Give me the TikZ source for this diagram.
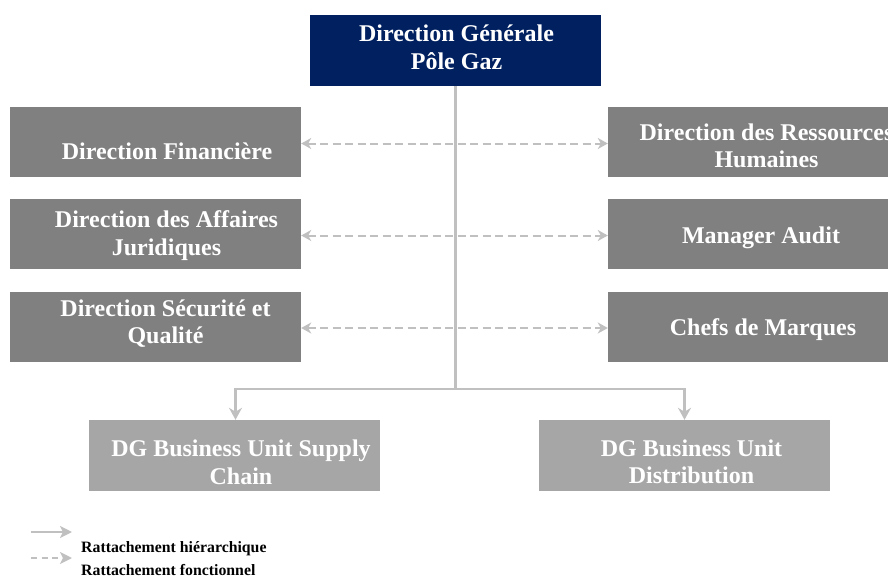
\documentclass[tikz,border=0pt]{standalone}
\usepackage{fontspec}
\setmainfont{Liberation Serif}
\usepackage{tikz}
\usetikzlibrary{arrows.meta}

\definecolor{dgblue}{RGB}{0,32,96}
\definecolor{dirgray}{RGB}{128,128,128}
\definecolor{bugray}{RGB}{166,166,166}
\definecolor{linkgray}{RGB}{192,192,192}

\tikzset{
	box/.style={minimum width=291pt, minimum height=70pt, inner sep=0pt},
	boxtext/.style={text=white, align=center, inner sep=0pt, font=\bfseries\fontsize{24}{27.6}\selectfont},
	legtext/.style={inner sep=0pt, font=\bfseries\fontsize{15.8}{18}\selectfont},
	trunk/.style={draw=linkgray, line width=3.5pt},
	hier/.style={draw=linkgray, line width=2.8pt, -{Stealth[length=12pt, width=13pt, inset=4pt]}},
	func/.style={draw=linkgray, line width=2pt, dash pattern=on 8pt off 4.5pt, {Stealth[length=10pt, width=11pt, inset=3pt]}-{Stealth[length=10pt, width=11pt, inset=3pt]}},
	leghier/.style={draw=linkgray, line width=2.4pt, -{Stealth[length=12pt, width=12pt, inset=3pt]}},
	legfunc/.style={draw=linkgray, line width=2.4pt, dash pattern=on 6pt off 4.5pt, -{Stealth[length=12pt, width=12pt, inset=3pt]}}
}

\begin{document}
\begin{tikzpicture}[x=1pt, y=-1pt]
		\useasboundingbox (0,0) rectangle (888,578);
		\clip (0,0) rectangle (888,578);
		\node[box, fill=dgblue, minimum height=71pt, label={[boxtext, xshift=1pt, yshift=3pt]center:Direction Générale\\Pôle Gaz}] (dg) at (455.5,50.5) {};
		\node[box, fill=dirgray, label={[boxtext, xshift=11.5pt, yshift=-9pt]center:Direction Financière}] (fin) at (155.5,142) {};
		\node[box, fill=dirgray, label={[boxtext, xshift=11pt, yshift=-2.4pt]center:Direction des Affaires\\Juridiques}] (jur) at (155.5,233.5) {};
		\node[box, fill=dirgray, label={[boxtext, xshift=10pt, yshift=3pt]center:Direction Sécurité et\\Qualité}] (sec) at (155.5,326.5) {};
		\node[box, fill=dirgray, label={[boxtext, xshift=13pt, yshift=-4pt]center:Direction des Ressources\\Humaines}] (rh) at (753.5,142) {};
		\node[box, fill=dirgray, label={[boxtext, xshift=7.5pt, yshift=-4.5pt]center:Manager Audit}] (aud) at (753.5,233.5) {};
		\node[box, fill=dirgray, label={[boxtext, xshift=9.5pt, yshift=-2.7pt]center:Chefs de Marques}] (chef) at (753.5,326.5) {};
		\node[box, fill=bugray, minimum height=71pt, label={[boxtext, xshift=6.5pt, yshift=-6.5pt]center:DG Business Unit Supply\\Chain}] (sc) at (234.5,455.5) {};
		\node[box, fill=bugray, minimum height=71pt, label={[boxtext, xshift=7pt, yshift=-6.5pt]center:DG Business Unit\\Distribution}] (dist) at (684.5,455.5) {};

		\draw[func] ([yshift=-1.5pt]fin.east) -- ([yshift=-1.5pt]rh.west);
		\draw[func] ([yshift=-2pt]jur.east) -- ([yshift=-2pt]aud.west);
		\draw[func] ([yshift=-1.5pt]sec.east) -- ([yshift=-1.5pt]chef.west);

		\coordinate (fork) at (455.5,389);
		\draw[trunk] (dg.south) -- (fork);
		\draw[hier] (fork) -| ([xshift=1pt]sc.north);
		\draw[hier] (fork) -| (dist.north);

		\coordinate (h1) at (31,532);	\coordinate (h2) at (72,532);
		\coordinate (f1) at (31,558);	\coordinate (f2) at (72,558);
		\draw[leghier] (h1) -- (h2);
		\draw[legfunc] (f1) -- (f2);
		\node[legtext, anchor=base west] (lhier) at (81,552) {Rattachement hiérarchique};
		\node[legtext, anchor=base west] (lfonc) at (81,575) {Rattachement fonctionnel};
	\end{tikzpicture}
\end{document}
